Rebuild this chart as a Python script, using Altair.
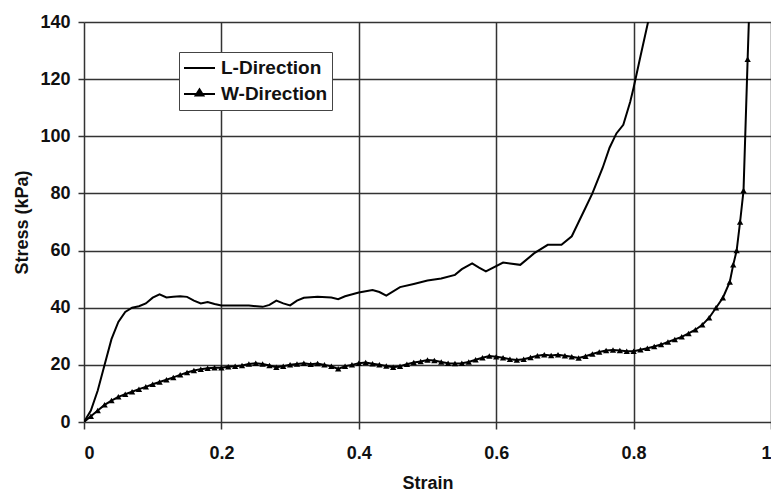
import altair as alt
import pandas as pd

# L-Direction series
L_strain = [0, 0.01, 0.02, 0.03, 0.04, 0.05, 0.06, 0.07, 0.08, 0.09, 0.10, 0.11, 0.12, 0.13,
            0.14, 0.15, 0.16, 0.17, 0.18, 0.19, 0.20, 0.22, 0.24, 0.26, 0.27, 0.28, 0.29, 0.30,
            0.31, 0.32, 0.34, 0.36, 0.37, 0.38, 0.40, 0.42, 0.43, 0.44, 0.46, 0.48, 0.50, 0.52,
            0.54, 0.55, 0.565, 0.575, 0.585, 0.61, 0.635, 0.655, 0.675, 0.695, 0.71, 0.72, 0.73,
            0.74, 0.755, 0.765, 0.775, 0.785, 0.795, 0.80, 0.81, 0.822]
L_stress = [0, 4, 11, 20, 29, 35, 38.5, 40, 40.5, 41.5, 43.5, 44.7, 43.6, 43.8,
            44, 43.8, 42.5, 41.5, 42, 41.3, 40.8, 40.8, 40.8, 40.3, 41, 42.5, 41.5, 40.8,
            42.5, 43.5, 43.8, 43.6, 43, 44, 45.3, 46.2, 45.5, 44.2, 47.2, 48.3, 49.5, 50.2,
            51.5, 53.5, 55.5, 54, 52.7, 55.8, 55, 59, 62, 62, 65, 70, 75,
            80, 89, 96, 101, 104, 112, 117, 128, 141]

# W-Direction series
W_strain = [0.00, 0.01, 0.02, 0.03, 0.04, 0.05, 0.06, 0.07, 0.08, 0.09,
            0.10, 0.11, 0.12, 0.13, 0.14, 0.15, 0.16, 0.17, 0.18, 0.19,
            0.20, 0.21, 0.22, 0.23, 0.24, 0.25, 0.26, 0.27, 0.28, 0.29,
            0.30, 0.31, 0.32, 0.33, 0.34, 0.35, 0.36, 0.37, 0.38, 0.39,
            0.40, 0.41, 0.42, 0.43, 0.44, 0.45, 0.46, 0.47, 0.48, 0.49,
            0.50, 0.51, 0.52, 0.53, 0.54, 0.55, 0.56, 0.57, 0.58, 0.59,
            0.60, 0.61, 0.62, 0.63, 0.64, 0.65, 0.66, 0.67, 0.68, 0.69,
            0.70, 0.71, 0.72, 0.73, 0.74, 0.75, 0.76, 0.77, 0.78, 0.79,
            0.80, 0.81, 0.82, 0.83, 0.84, 0.85, 0.86, 0.87, 0.88, 0.89,
            0.90, 0.91, 0.92, 0.93, 0.94, 0.945, 0.95, 0.955, 0.96, 0.966, 0.968]
W_stress = [0, 2, 4, 6, 7.5, 8.8, 9.7, 10.6, 11.5, 12.3,
            13.2, 14, 14.8, 15.6, 16.5, 17.3, 18, 18.5, 18.8, 19,
            19, 19.3, 19.5, 19.8, 20.3, 20.6, 20.3, 19.8, 19.2, 19.5,
            20, 20.3, 20.6, 20.2, 20.5, 20, 19.5, 18.6, 19.5, 20,
            20.6, 20.8, 20.4, 20, 19.6, 19.2, 19.5, 20.2, 20.8, 21.2,
            21.7, 21.5, 21, 20.6, 20.5, 20.6, 21, 21.8, 22.5, 23.1,
            22.8, 22.5, 22, 21.7, 22, 22.6, 23.2, 23.5, 23.3, 23.5,
            23.2, 22.8, 22.4, 23, 23.8, 24.5, 25, 25.2, 25, 24.8,
            24.8, 25.3, 25.8, 26.4, 27.1, 28, 28.9, 29.8, 31, 32.3,
            34, 36.5, 40, 43.5, 49, 55, 60, 70, 81, 127, 142]

series_names = ["L-Direction", "W-Direction"]
x_ticks = [0, 0.2, 0.4, 0.6, 0.8, 1]
y_ticks = [0, 20, 40, 60, 80, 100, 120, 140]

df = pd.concat([
    pd.DataFrame({"strain": L_strain, "stress": L_stress, "series": series_names[0]}),
    pd.DataFrame({"strain": W_strain, "stress": W_stress, "series": series_names[1]}),
], ignore_index=True)
df["order"] = range(len(df))
dfW = df[df["series"] == series_names[1]]

FONT = "Liberation Sans"

x_enc = alt.X("strain:Q", title="Strain",
              scale=alt.Scale(domain=[0, 1], nice=False),
              axis=alt.Axis(values=x_ticks, format="~g", labelPadding=15, tickSize=7,
                            titlePadding=12))
y_enc = alt.Y("stress:Q", title="Stress (kPa)",
              scale=alt.Scale(domain=[0, 140], nice=False),
              axis=alt.Axis(values=y_ticks, labelPadding=8, tickSize=6, titlePadding=8))

sym_expr = ("datum.value === 'W-Direction' ? "
            "'M-1,0H1M-0.25,0.1L0,-0.3L0.25,0.1Z' : 'M-1,0H1'")

lines = alt.Chart(df).mark_line(clip=True, strokeWidth=2).encode(
    x=x_enc, y=y_enc, order="order:Q",
    color=alt.Color("series:N",
                    scale=alt.Scale(domain=series_names, range=["black", "black"]),
                    legend=alt.Legend(title=None, orient="none", legendX=95, legendY=30,
                                      symbolType=alt.ExprRef(expr=sym_expr),
                                      symbolSize=961, symbolStrokeWidth=2,
                                      symbolStrokeColor="black", symbolFillColor="black",
                                      clipHeight=24, rowPadding=2, padding=4,
                                      labelOffset=5, labelFont=FONT, labelFontSize=19,
                                      labelFontWeight=700, labelColor="#111",
                                      strokeColor="#444", fillColor="white",
                                      cornerRadius=0)),
)

points = alt.Chart(dfW).mark_point(shape="triangle-up", filled=True, size=40,
                                   color="black", opacity=1, clip=True).encode(
    x="strain:Q", y="stress:Q")

chart = alt.layer(lines, points).properties(
    width=687, height=400,
    background="white",
    autosize=alt.AutoSizeParams(type="none"),
    padding={"left": 84, "top": 22, "right": 0, "bottom": 69},
).configure_view(stroke=None).configure_axis(
    domain=False, grid=True, gridColor="#333333", gridWidth=1.5, gridOpacity=1,
    tickColor="#333333", tickWidth=1.5,
    labelFont=FONT, labelFontSize=18, labelFontWeight="bold", labelColor="#111",
    titleFont=FONT, titleFontSize=18, titleFontWeight="bold", titleColor="#111",
).configure_legend(
    labelFont=FONT, labelFontSize=19, labelFontWeight=700, labelColor="#111",
)

chart.save("out.html", embed_options={"renderer": "svg", "actions": False})
